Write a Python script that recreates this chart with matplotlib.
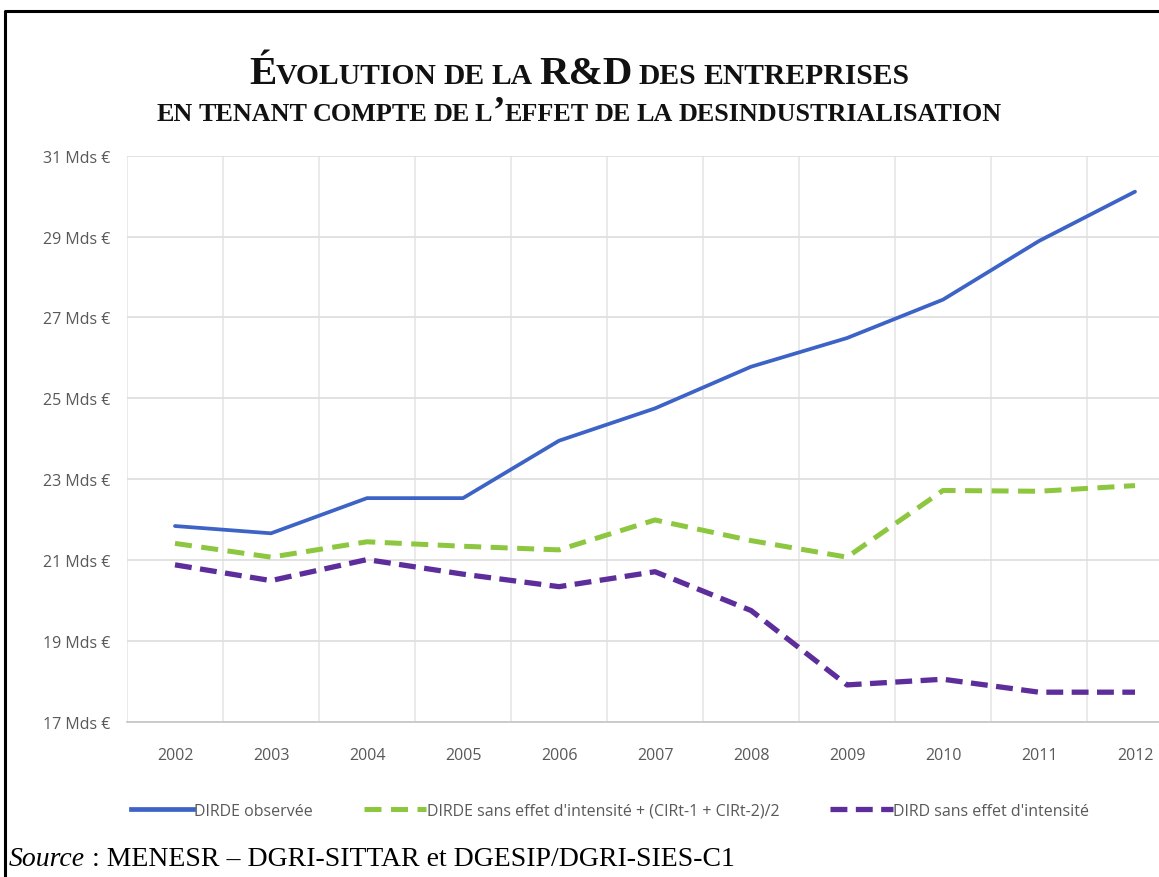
import matplotlib
matplotlib.use("Agg")
import matplotlib.pyplot as plt
from matplotlib.lines import Line2D

# ---------------- data ----------------
years = ["2002", "2003", "2004", "2005", "2006", "2007", "2008", "2009", "2010", "2011", "2012"]
dirde_observee = [21.84, 21.66, 22.53, 22.53, 23.95, 24.75, 25.78, 26.49, 27.44, 28.89, 30.11]
dirde_sans_effet_cir = [21.41, 21.07, 21.45, 21.34, 21.25, 21.99, 21.48, 21.07, 22.72, 22.70, 22.84]
dird_sans_effet = [20.88, 20.49, 21.01, 20.65, 20.34, 20.71, 19.75, 17.91, 18.05, 17.73, 17.73]
series_labels = ["DIRDE observée",
                 "DIRDE sans effet d'intensité + (CIRt-1 + CIRt-2)/2",
                 "DIRD sans effet d'intensité"]
y_ticks = [17, 19, 21, 23, 25, 27, 29, 31]
y_tick_labels = [f"{v} Mds €" for v in y_ticks]
title_line1 = [[("É", "big"), ("VOLUTION", "small")], [("DE", "small")], [("LA", "small")],
               [("R&D", "big")], [("DES", "small")], [("ENTREPRISES", "small")]]
title_line2 = [[("EN", "small")], [("TENANT", "small")], [("COMPTE", "small")], [("DE", "small")],
               [("L", "small"), ("’", "big"), ("EFFET", "small")], [("DE", "small")], [("LA", "small")],
               [("DESINDUSTRIALISATION", "small")]]
source_italic = "Source"
source_rest = " : MENESR – DGRI-SITTAR et DGESIP/DGRI-SIES-C1"

# ---------------- figure ----------------
W, H = 1159, 878
fig = plt.figure(figsize=(W / 100, H / 100), dpi=100)
fig.patch.set_facecolor("white")

def fx(px):
    return px / W

def fy(py):
    return 1 - py / H

ax_left, ax_right, ax_top, ax_bot = 127, 1183, 156.7, 722.7
ax = fig.add_axes([fx(ax_left), fy(ax_bot), fx(ax_right - ax_left), (ax_bot - ax_top) / H])
ax.set_facecolor("white")

x = list(range(len(years)))
ui_font = "Open Sans"
tick_color = "#595959"

c_blue = "#3D63C6"
c_green = "#8DC63F"
c_purple = "#5C2D9B"

ax.plot(x, dirde_observee, color=c_blue, lw=2.7, solid_capstyle="round", zorder=5)
ax.plot(x, dirde_sans_effet_cir, color=c_green, lw=3.6, dashes=(3.4, 1.9), zorder=4)
ax.plot(x, dird_sans_effet, color=c_purple, lw=3.8, dashes=(3.2, 1.6), zorder=4)

ax.set_xlim(-0.5, 10.5)
ax.set_ylim(17, 31)
ax.set_yticks(y_ticks)
ax.set_yticklabels(y_tick_labels, fontfamily=ui_font, fontsize=11.5, color=tick_color)
ax.set_xticks(x)
ax.set_xticklabels(years, fontfamily=ui_font, fontsize=11.5, color=tick_color)
ax.set_xticks([i - 0.5 for i in range(len(years) + 1)], minor=True)
ax.tick_params(axis="both", which="both", length=0)
ax.tick_params(axis="y", pad=12)
ax.tick_params(axis="x", pad=18)
ax.grid(True, axis="y", which="major", color="#DDDDDD", lw=1.2)
ax.grid(True, axis="x", which="minor", color="#E6E6E6", lw=1.2)
ax.grid(False, axis="x", which="major")
for s in ["top", "right", "left"]:
    ax.spines[s].set_visible(False)
ax.spines["bottom"].set_color("#C8C8C8")
ax.spines["bottom"].set_linewidth(1.3)
ax.set_axisbelow(True)

# legend
handles = [
    Line2D([], [], color=c_blue, lw=3.4),
    Line2D([], [], color=c_green, lw=3.6, dashes=(3.4, 1.9)),
    Line2D([], [], color=c_purple, lw=3.8, dashes=(3.2, 1.6)),
]
fig.legend(handles, series_labels, loc="center", bbox_to_anchor=(fx(610), fy(812)), ncol=3,
           frameon=False, handlelength=3.9, handletextpad=0.05, columnspacing=3.2,
           prop={"family": ui_font, "size": 11.5}, labelcolor="#595959")

# border
fig.add_artist(Line2D([fx(5), fx(5), fx(W + 5)], [fy(H + 5), fy(12), fy(12)],
                      color="black", lw=2.2, transform=fig.transFigure))

# title with small caps
serif = "Liberation Serif"
fig.canvas.draw()
renderer = fig.canvas.get_renderer()

def width_of(s, size):
    t = fig.text(0, 0, s, fontsize=size, fontfamily=serif, fontweight="bold")
    w = t.get_window_extent(renderer).width
    t.remove()
    return w

def draw_line(words, y_px, sizes):
    space = 1.6 * (width_of("A A", sizes["small"]) - width_of("AA", sizes["small"]))
    pieces = []
    total = 0
    for wi, word in enumerate(words):
        if wi > 0:
            total += space
        for s, k in word:
            w = width_of(s, sizes[k])
            pieces.append((s, sizes[k], total))
            total += w
    x0 = 579 - total / 2
    for s, size, off in pieces:
        fig.text(fx(x0 + off), fy(y_px), s, fontsize=size, fontfamily=serif,
                 fontweight="bold", va="baseline", ha="left", color="#111111")

draw_line(title_line1, 84, {"big": 29.5, "small": 21.3})
draw_line(title_line2, 121, {"big": 27, "small": 18.8})

# source
t1 = fig.text(fx(9), fy(866), source_italic, fontsize=20, fontfamily=serif,
              fontstyle="italic", va="baseline", ha="left")
w1 = t1.get_window_extent(renderer).width
fig.text(fx(9 + w1), fy(866), source_rest, fontsize=20, fontfamily=serif,
         va="baseline", ha="left")

fig.savefig("out.png", dpi=100, facecolor="white")
